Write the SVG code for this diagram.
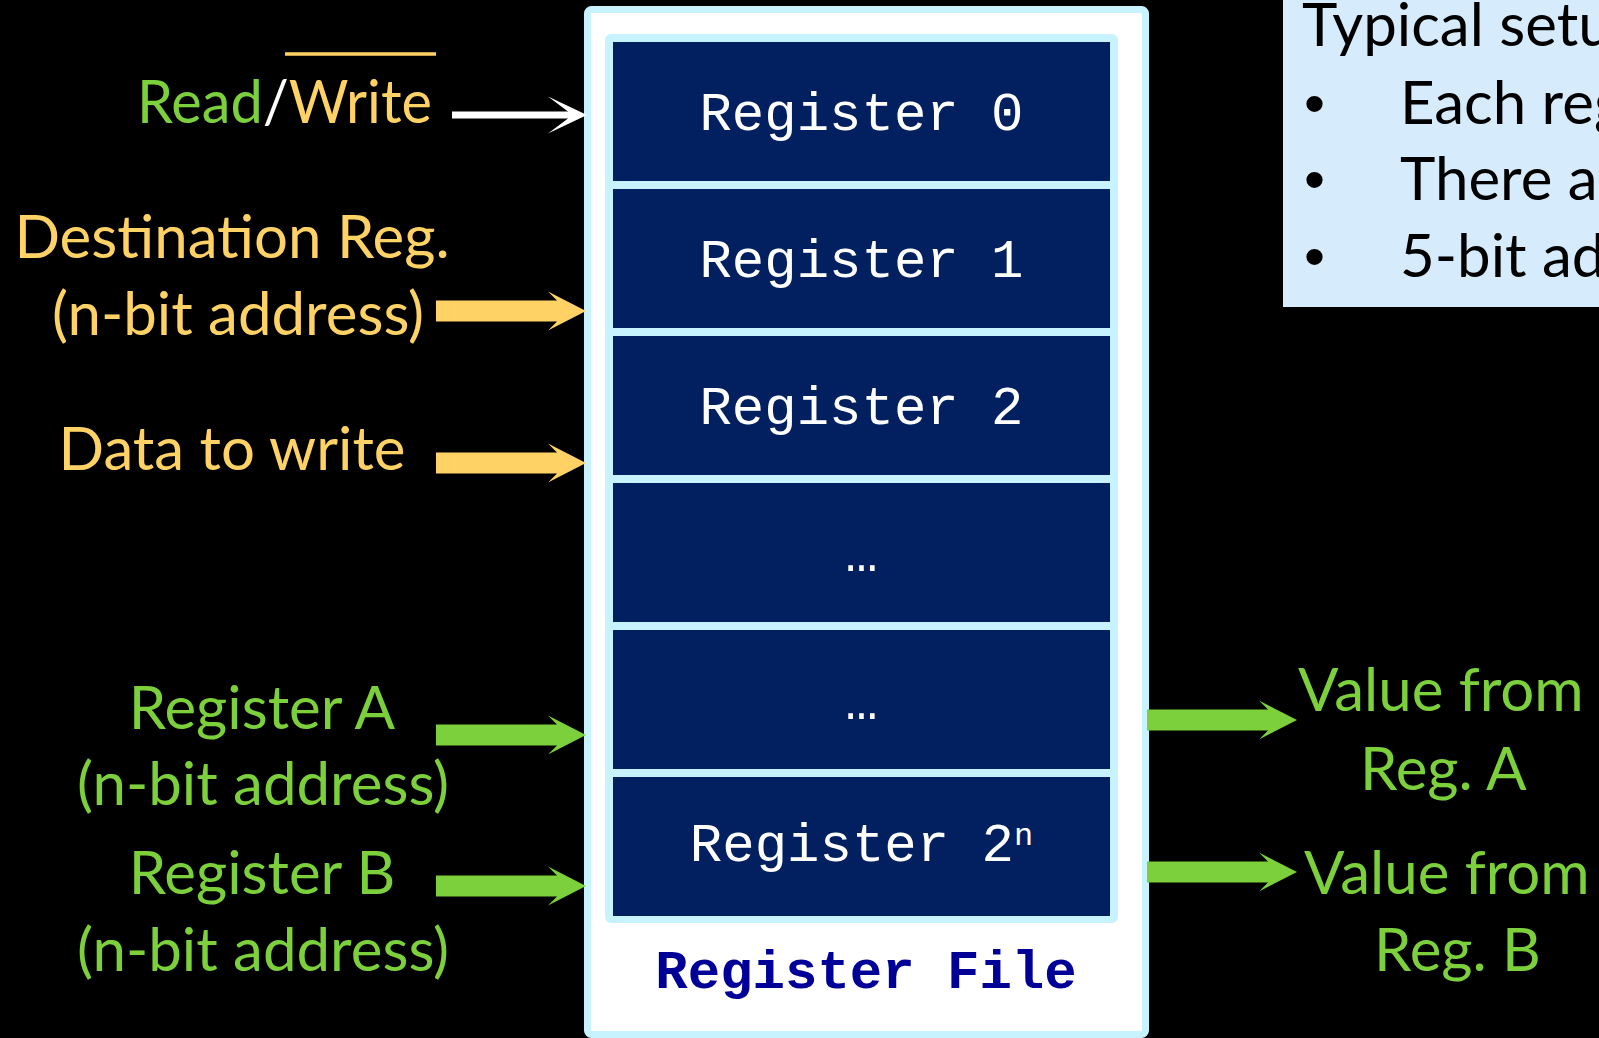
<svg xmlns="http://www.w3.org/2000/svg" width="1599" height="1038" viewBox="0 0 1599 1038">
  <style>
    .lbl { font-family: Lato, "Open Sans", "Liberation Sans", sans-serif; font-size: 60px; }
    .yel { fill: #FFD265; }
    .grn { fill: #7BD03C; }
    .wht { fill: #FFFFFF; }
    .blk { fill: #000000; }
    .row { fill: #022060; }
    .reg { font-family: "Liberation Mono", "Courier New", monospace; font-size: 54px; fill: #FFFFFF; text-anchor: middle; }
    .title { font-family: "Liberation Mono", "Courier New", monospace; font-size: 54px; font-weight: bold; fill: #000099; text-anchor: middle; }
    .bus { fill: none; stroke-width: 21; }
    .dot { font-family: "Liberation Sans", sans-serif; font-size: 60px; fill: #000000; }
  </style>
  <defs>
    <!-- wide block-arrow heads: tip sits 29px past the line end -->
    <marker id="head-yellow" markerUnits="userSpaceOnUse" viewBox="0 0 40 40" markerWidth="40" markerHeight="40" refX="10" refY="20" orient="auto">
      <path d="M39,20 L1,0.5 L10,9.5 L10,30.5 L1,39.5 Z" fill="#FFD265"/>
    </marker>
    <marker id="head-green" markerUnits="userSpaceOnUse" viewBox="0 0 40 40" markerWidth="40" markerHeight="40" refX="10" refY="20" orient="auto">
      <path d="M39,20 L1,0.5 L10,9.5 L10,30.5 L1,39.5 Z" fill="#7BD03C"/>
    </marker>
    <!-- thin control-line arrow head -->
    <marker id="head-white" markerUnits="userSpaceOnUse" viewBox="0 0 40 40" markerWidth="40" markerHeight="40" refX="28" refY="20" orient="auto">
      <path d="M40,20 L1,1.5 L21,16.5 L21,23.5 L1,38.5 Z" fill="#FFFFFF"/>
    </marker>
  </defs>

  <rect x="0" y="0" width="1599" height="1038" fill="#000000"/>

  <!-- register file block -->
  <g id="register-file">
    <rect x="587.5" y="9.5" width="558" height="1025" rx="4" fill="#FFFFFF" stroke="#C6F3FF" stroke-width="7"/>
    <rect x="605" y="34" width="513" height="889" rx="6" fill="#C6F3FF"/>
    <text class="title" x="866" y="988">Register File</text>
  </g>

  <g id="reg-0">
    <rect class="row" x="613" y="42" width="497" height="139"/>
    <text class="reg" x="861.5" y="130">Register 0</text>
  </g>
  <g id="reg-1">
    <rect class="row" x="613" y="189" width="497" height="139"/>
    <text class="reg" x="861.5" y="277">Register 1</text>
  </g>
  <g id="reg-2">
    <rect class="row" x="613" y="336" width="497" height="139"/>
    <text class="reg" x="861.5" y="424">Register 2</text>
  </g>
  <g id="reg-gap-1">
    <rect class="row" x="613" y="483" width="497" height="139"/>
    <text class="reg" x="861.5" y="571">…</text>
  </g>
  <g id="reg-gap-2">
    <rect class="row" x="613" y="630" width="497" height="139"/>
    <text class="reg" x="861.5" y="719">…</text>
  </g>
  <g id="reg-last">
    <rect class="row" x="613" y="777" width="497" height="139"/>
    <text class="reg" x="861.5" y="861">Register 2<tspan font-size="32" dy="-16">n</tspan></text>
  </g>

  <!-- input labels -->
  <g id="lbl-read-write">
    <text class="lbl" x="137" y="123" textLength="295" lengthAdjust="spacingAndGlyphs"><tspan class="grn">Read</tspan><tspan class="wht">/</tspan><tspan class="yel">Write</tspan></text>
    <line x1="285" y1="54" x2="436" y2="54" stroke="#FFD265" stroke-width="3.5"/>
  </g>
  <g id="lbl-dest">
    <text class="lbl yel" x="232" y="258" text-anchor="middle">Destination Reg.</text>
    <text class="lbl yel" x="238" y="335" text-anchor="middle" font-size="61">(n-bit address)</text>
  </g>
  <g id="lbl-data">
    <text class="lbl yel" x="232" y="470" text-anchor="middle">Data to write</text>
  </g>
  <g id="lbl-reg-a">
    <text class="lbl grn" x="262" y="729" text-anchor="middle">Register A</text>
    <text class="lbl grn" x="263" y="805" text-anchor="middle" font-size="61">(n-bit address)</text>
  </g>
  <g id="lbl-reg-b">
    <text class="lbl grn" x="262" y="894" text-anchor="middle">Register B</text>
    <text class="lbl grn" x="263" y="971" text-anchor="middle" font-size="61">(n-bit address)</text>
  </g>

  <!-- output labels -->
  <g id="out-a">
    <text class="lbl grn" x="1298" y="711">Value from</text>
    <text class="lbl grn" x="1360" y="790">Reg. A</text>
  </g>
  <g id="out-b">
    <text class="lbl grn" x="1304" y="894">Value from</text>
    <text class="lbl grn" x="1374" y="971">Reg. B</text>
  </g>

  <!-- notes panel -->
  <g id="setup-notes">
    <rect x="1283" y="0" width="316" height="307" fill="#D6EBFB"/>
    <text class="lbl blk" x="1302" y="46">Typical setu</text>
    <text class="dot" x="1304" y="124">•</text>
    <text class="dot" x="1304" y="200">•</text>
    <text class="dot" x="1304" y="277">•</text>
    <text class="lbl blk" x="1400" y="124">Each reg</text>
    <text class="lbl blk" x="1400" y="200">There a</text>
    <text class="lbl blk" x="1400" y="277">5-bit ad</text>
  </g>

  <!-- connectors -->
  <g id="connectors">
    <line x1="452" y1="115" x2="575" y2="115" stroke="#FFFFFF" stroke-width="7" marker-end="url(#head-white)"/>
    <line class="bus" x1="436" y1="311" x2="557" y2="311" stroke="#FFD265" marker-end="url(#head-yellow)"/>
    <line class="bus" x1="436" y1="463" x2="557" y2="463" stroke="#FFD265" marker-end="url(#head-yellow)"/>
    <line class="bus" x1="436" y1="735" x2="557" y2="735" stroke="#7BD03C" marker-end="url(#head-green)"/>
    <line class="bus" x1="436" y1="886" x2="557" y2="886" stroke="#7BD03C" marker-end="url(#head-green)"/>
    <line class="bus" x1="1147" y1="720" x2="1268" y2="720" stroke="#7BD03C" marker-end="url(#head-green)"/>
    <line class="bus" x1="1147" y1="872" x2="1268" y2="872" stroke="#7BD03C" marker-end="url(#head-green)"/>
  </g>
</svg>
